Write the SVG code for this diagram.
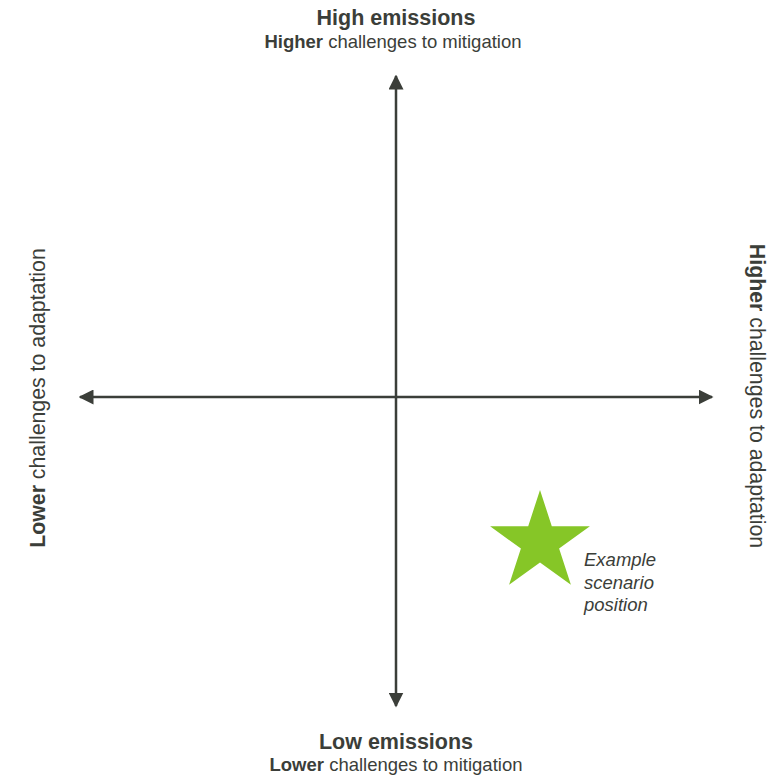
<svg xmlns="http://www.w3.org/2000/svg" width="784" height="775" viewBox="0 0 784 775">
  <style>
    .lbl { font-family: "Liberation Sans", Arial, sans-serif; fill: #3b3e39; }
    .head { font-size: 21.5px; font-weight: bold; }
    .sub { font-size: 18.5px; }
    .side { font-size: 21.3px; }
    .b { font-weight: bold; }
    .axis { stroke: #3b3e39; stroke-width: 2.5; fill: none; }
    .note { font-family: "Liberation Sans", Arial, sans-serif; font-size: 18.5px; font-style: italic; fill: #3b3e39; }
  </style>
  <defs>
    <marker id="arrow" viewBox="0 0 10 10" refX="9" refY="5" markerWidth="6" markerHeight="6" markerUnits="strokeWidth" orient="auto">
      <path d="M0,0 L10,5 L0,10 Z" fill="#3b3e39"/>
    </marker>
  </defs>
  <rect width="784" height="775" fill="#ffffff"/>

  <!-- axes -->
  <g id="connectors">
    <line class="axis" x1="396" y1="397" x2="396" y2="76" marker-end="url(#arrow)"/>
    <line class="axis" x1="396" y1="397" x2="396" y2="706" marker-end="url(#arrow)"/>
    <line class="axis" x1="396" y1="397" x2="80" y2="397" marker-end="url(#arrow)"/>
    <line class="axis" x1="396" y1="397" x2="712" y2="397" marker-end="url(#arrow)"/>
  </g>

  <g id="top-label">
    <text class="lbl head" x="396" y="25" text-anchor="middle">High emissions</text>
    <text class="lbl sub" x="393" y="48" text-anchor="middle"><tspan class="b">Higher</tspan> challenges to mitigation</text>
  </g>

  <g id="bottom-label">
    <text class="lbl head" x="396" y="749" text-anchor="middle">Low emissions</text>
    <text class="lbl sub" x="396" y="771" text-anchor="middle"><tspan class="b">Lower</tspan> challenges to mitigation</text>
  </g>

  <g id="left-label">
    <text class="lbl side" transform="translate(45,398) rotate(-90)" text-anchor="middle"><tspan class="b">Lower</tspan> challenges to adaptation</text>
  </g>

  <g id="right-label">
    <text class="lbl side" transform="translate(750,396) rotate(90)" text-anchor="middle"><tspan class="b">Higher</tspan> challenges to adaptation</text>
  </g>

  <g id="scenario">
    <polygon fill="#86c627" points="540,490 551.8,526.2 589.9,526.2 559.1,548.6 570.9,584.8 540,562.4 509.1,584.8 520.9,548.6 490.1,526.2 528.2,526.2"/>
    <text class="note" x="584" y="566">Example</text>
    <text class="note" x="584" y="589">scenario</text>
    <text class="note" x="584" y="611">position</text>
  </g>
</svg>
